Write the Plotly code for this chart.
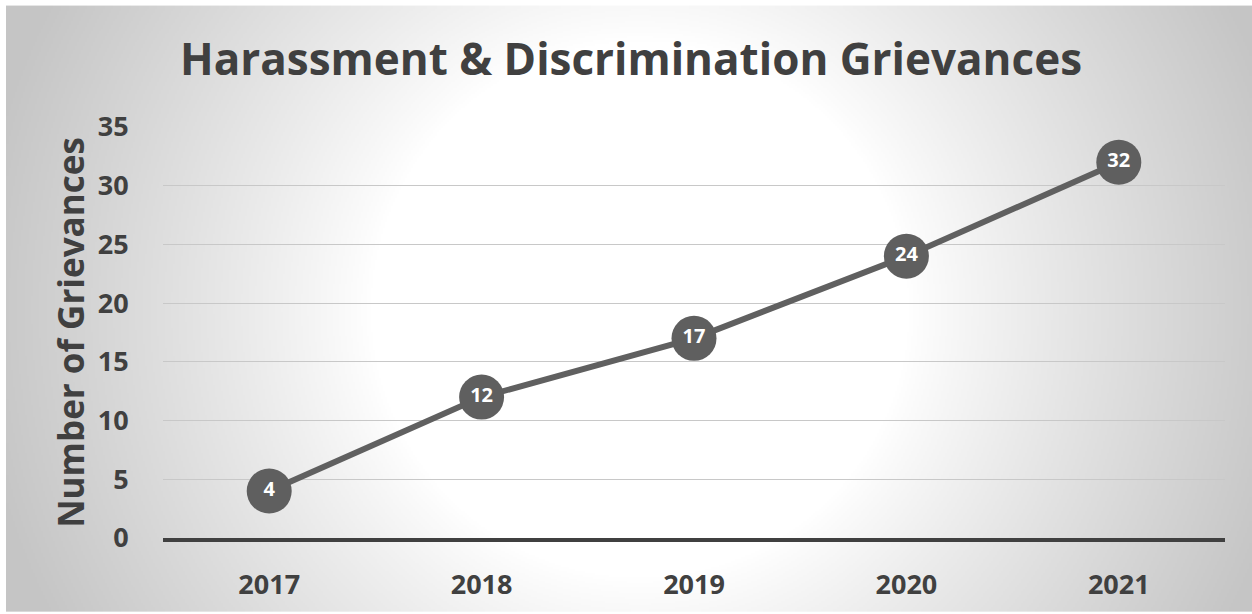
import base64, struct, zlib
import numpy as np
import plotly.graph_objects as go

years = ["2017", "2018", "2019", "2020", "2021"]
grievances = [4, 12, 17, 24, 32]
y_ticks = [0, 5, 10, 15, 20, 25, 30, 35]

W, H = 1252, 614
L, R, T, B = 163, 1225, 127, 540  # plot area in pixels
BX0, BY0 = 6, 5  # background panel top-left corner

# ---- radial gradient background as PNG ----
def make_png(arr):
    h, w = arr.shape
    raw = b"".join(b"\x00" + arr[i].tobytes() for i in range(h))
    def chunk(t, d):
        c = struct.pack(">I", len(d)) + t + d
        return c + struct.pack(">I", zlib.crc32(t + d) & 0xffffffff)
    png = b"\x89PNG\r\n\x1a\n" + chunk(b"IHDR", struct.pack(">IIBBBBB", w, h, 8, 0, 0, 0, 0))
    png += chunk(b"IDAT", zlib.compress(raw, 9)) + chunk(b"IEND", b"")
    return "data:image/png;base64," + base64.b64encode(png).decode()

scale = 2
bw, bh = (W - BX0) // scale, (H - BY0) // scale
px = BX0 + (np.arange(bw)[None, :] + 0.5) * scale
py = BY0 + (np.arange(bh)[:, None] + 0.5) * scale
d = np.sqrt((px - 640) ** 2 + (py - 310) ** 2)
t = np.clip((d - 270) / 400, 0, 1)
val = 255 - 58 * t ** 0.9
bg = np.clip(val, 0, 255).astype(np.uint8)
src = make_png(bg)

pw, ph = R - L, B - T
def px_x(p):
    return (p - L) / pw
def px_y(p):
    return (B - p) / ph

fig = go.Figure()
fig.add_trace(go.Scatter(
    x=years, y=grievances, mode="lines+markers+text",
    line=dict(color="#606060", width=6),
    marker=dict(size=45, color="#5f5f5f"),
    text=[str(v) for v in grievances], textposition="middle center",
    textfont=dict(family="Open Sans", size=20, color="white", weight="bold"),
    cliponaxis=False, hoverinfo="skip", showlegend=False,
))

fig.update_layout(
    width=W, height=H,
    margin=dict(l=L, r=W - R, t=T, b=H - B),
    paper_bgcolor="white", plot_bgcolor="rgba(0,0,0,0)",
    font=dict(family="Open Sans", color="#404040"),
    title=dict(text="<b>Harassment & Discrimination Grievances</b>",
               x=631 / W, xanchor="center", y=1 - 60 / H, yanchor="middle",
               font=dict(family="Open Sans", size=44, color="#404040")),
    images=[dict(source=src, xref="paper", yref="paper",
                 x=px_x(BX0), y=px_y(BY0), sizex=(W - BX0) / pw, sizey=(H - BY0) / ph,
                 xanchor="left", yanchor="top", sizing="stretch", layer="below")],
    xaxis=dict(type="category", range=[-0.5, 4.5], showgrid=False,
               showline=True, linecolor="#404040", linewidth=4,
               ticks="outside", ticklen=20, tickcolor="rgba(0,0,0,0)",
               tickfont=dict(family="Open Sans", size=27, color="#404040", weight="bold")),
    yaxis=dict(range=[0, 35], tickvals=y_ticks, showgrid=True,
               gridcolor="#c8c8c8", gridwidth=1, zeroline=False,
               ticks="outside", ticklen=28, tickcolor="rgba(0,0,0,0)",
               tickfont=dict(family="Open Sans", size=27, color="#404040", weight="bold"),
               title=dict(text="<b>Number of Grievances</b>", standoff=2,
                          font=dict(family="Open Sans", size=35, color="#404040"))),
)

fig.write_html("out.html")
